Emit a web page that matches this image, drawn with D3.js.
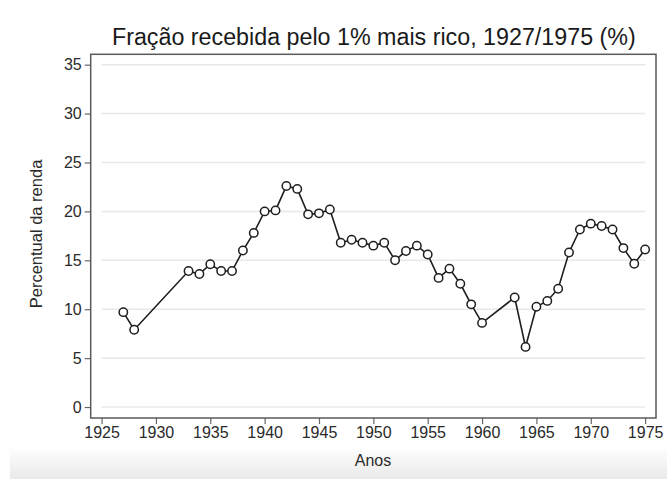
<!DOCTYPE html>
<html><head><meta charset="utf-8">
<script src="https://cdn.jsdelivr.net/npm/d3@7"></script>
<style>html,body{margin:0;padding:0;background:#fff;}svg{display:block;}</style>
</head><body>
<svg id="chart" width="667" height="479"></svg>
<script>
const years = [1927,1928,1933,1934,1935,1936,1937,1938,1939,1940,1941,1942,1943,1944,1945,1946,1947,1948,1949,1950,1951,1952,1953,1954,1955,1956,1957,1958,1959,1960,1963,1964,1965,1966,1967,1968,1969,1970,1971,1972,1973,1974,1975];
const shares = [9.7,7.9,13.9,13.6,14.6,13.9,13.9,16.0,17.8,20.0,20.1,22.6,22.3,19.7,19.8,20.2,16.8,17.1,16.8,16.5,16.8,15.0,15.95,16.5,15.6,13.2,14.15,12.6,10.5,8.6,11.2,6.15,10.25,10.85,12.1,15.8,18.15,18.75,18.5,18.15,16.25,14.65,16.1];
const xTicks = [1925,1930,1935,1940,1945,1950,1955,1960,1965,1970,1975];
const yTicks = [0,5,10,15,20,25,30,35];
const titleText = "Fração recebida pelo 1% mais rico, 1927/1975 (%)";
const xTitle = "Anos";
const yTitle = "Percentual da renda";

const svg = d3.select("#chart");
const font = "'Liberation Sans', Arial, Helvetica, sans-serif";
const L = 90.7, R = 656, T = 54.3, B = 418;

// bottom background fade
const defs = svg.append("defs");
const g = defs.append("linearGradient").attr("id","fade").attr("x1",0).attr("y1",0).attr("x2",0).attr("y2",1);
g.append("stop").attr("offset","0%").attr("stop-color","#ffffff");
g.append("stop").attr("offset","100%").attr("stop-color","#e9e9e9");
svg.append("rect").attr("x",10).attr("y",446).attr("width",657).attr("height",33).attr("fill","url(#fade)");

const x = d3.scaleLinear().domain([1924, 1976]).range([L, R]);
const y = d3.scaleLinear().domain([-1.12, 36.06]).range([B, T]);

// gridlines
svg.append("g").selectAll("line").data(yTicks).join("line")
  .attr("x1", x(1925)).attr("x2", x(1975))
  .attr("y1", d => y(d)).attr("y2", d => y(d))
  .attr("stroke", "#e8e8e8").attr("stroke-width", 1.5);

// axes
const yAxis = svg.append("g").attr("transform", `translate(${L},0)`)
  .call(d3.axisLeft(y).tickValues(yTicks).tickSize(6).tickPadding(3).tickFormat(d3.format("d")));
const xAxis = svg.append("g").attr("transform", `translate(0,${B})`)
  .call(d3.axisBottom(x).tickValues(xTicks).tickSize(6).tickPadding(3).tickFormat(d3.format("d")));
[yAxis, xAxis].forEach(a => {
  a.select(".domain").remove();
  a.selectAll(".tick line").attr("stroke", "#666").attr("stroke-width", 1.2);
  a.selectAll(".tick text").attr("fill", "#2a2a2a").style("font-family", font).style("font-size", "16px");
});

// frame
svg.append("rect").attr("x", L).attr("y", T).attr("width", R - L).attr("height", B - T)
  .attr("fill", "none").attr("stroke", "#5a5a5a").attr("stroke-width", 1.5);

// line
const data = years.map((yr, i) => ({yr, v: shares[i]}));
svg.append("path").datum(data)
  .attr("d", d3.line().x(d => x(d.yr)).y(d => y(d.v)))
  .attr("fill", "none").attr("stroke", "#1e1e1e").attr("stroke-width", 1.6);
svg.append("g").selectAll("circle").data(data).join("circle")
  .attr("cx", d => x(d.yr)).attr("cy", d => y(d.v)).attr("r", 4.2)
  .attr("fill", "#fff").attr("stroke", "#1e1e1e").attr("stroke-width", 1.5);

// title
const t = svg.append("text").attr("x", (111.7 + 636) / 2).attr("y", 45)
  .attr("text-anchor", "middle").attr("fill", "#1a1a1a")
  .style("font-family", font).style("font-size", "20px").text(titleText);
const w = t.node().getComputedTextLength();
t.style("font-size", (20 * 524 / w).toFixed(2) + "px");

svg.append("text").attr("x", 373).attr("y", 466).attr("text-anchor", "middle")
  .attr("fill", "#2a2a2a").style("font-family", font).style("font-size", "16px").text(xTitle);
svg.append("text").attr("transform", "translate(42,234) rotate(-90)").attr("text-anchor", "middle")
  .attr("fill", "#2a2a2a").style("font-family", font).style("font-size", "16.5px").text(yTitle);
</script>
</body></html>
